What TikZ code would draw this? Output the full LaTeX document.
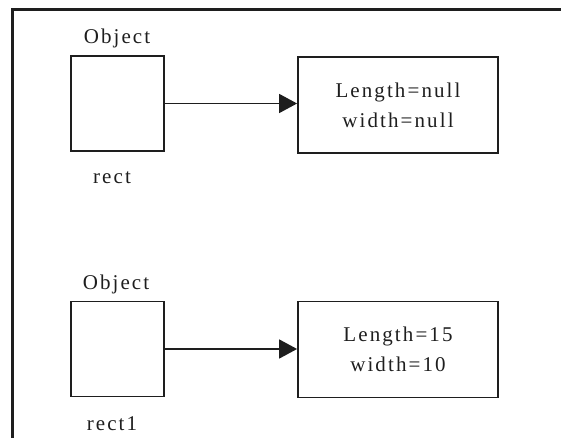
\documentclass[tikz,border=0pt]{standalone}
\usepackage{fontspec}
\setmainfont{Liberation Serif}[LetterSpace=10]
\usetikzlibrary{arrows.meta}
\definecolor{ink}{HTML}{1E1E1E}
\begin{document}
\begin{tikzpicture}[x=1pt,y=-1pt,
  frame/.style={draw=ink,line width=3pt},
  objbox/.style={draw=ink,line width=1.8pt,minimum width=93pt,minimum height=95pt,inner sep=0pt},
  valbox/.style={draw=ink,line width=1.8pt,minimum width=200pt,minimum height=96pt,
    align=center,inner sep=0pt,text=ink,font=\fontsize{21}{30}\selectfont},
  lbl/.style={anchor=base,inner sep=0pt,text=ink,font=\fontsize{21}{24}\selectfont},
  link/.style={draw=ink,line width=1.6pt,-{Triangle[length=18pt,width=19pt]}}]
\useasboundingbox (0,0) rectangle (561,438);

% page frame (open to the right and bottom)
\coordinate (fb) at (12,442);
\coordinate (fc) at (12,10);
\coordinate (fr) at (565,10);
\draw[frame] (fb) -- (fc) -- (fr);

% first object: rect
\node[objbox] (o1) at (117.5,103.5) {};
\node[valbox] (v1) at (398,105) {Length=null\\width=null};
\node[lbl] (t1) at (117,44) {Object};
\node[lbl] (n1) at (112,184) {rect};
\draw[link] (o1.east) -- (o1.east -| v1.west);

% second object: rect1
\node[objbox] (o2) at (117.5,349) {};
\node[valbox] (v2) at (398,349.5) {Length=15\\width=10};
\node[lbl] (t2) at (116,289) {Object};
\node[lbl] (n2) at (112,430) {rect1};
\draw[link] (o2.east) -- (o2.east -| v2.west);
\end{tikzpicture}
\end{document}
